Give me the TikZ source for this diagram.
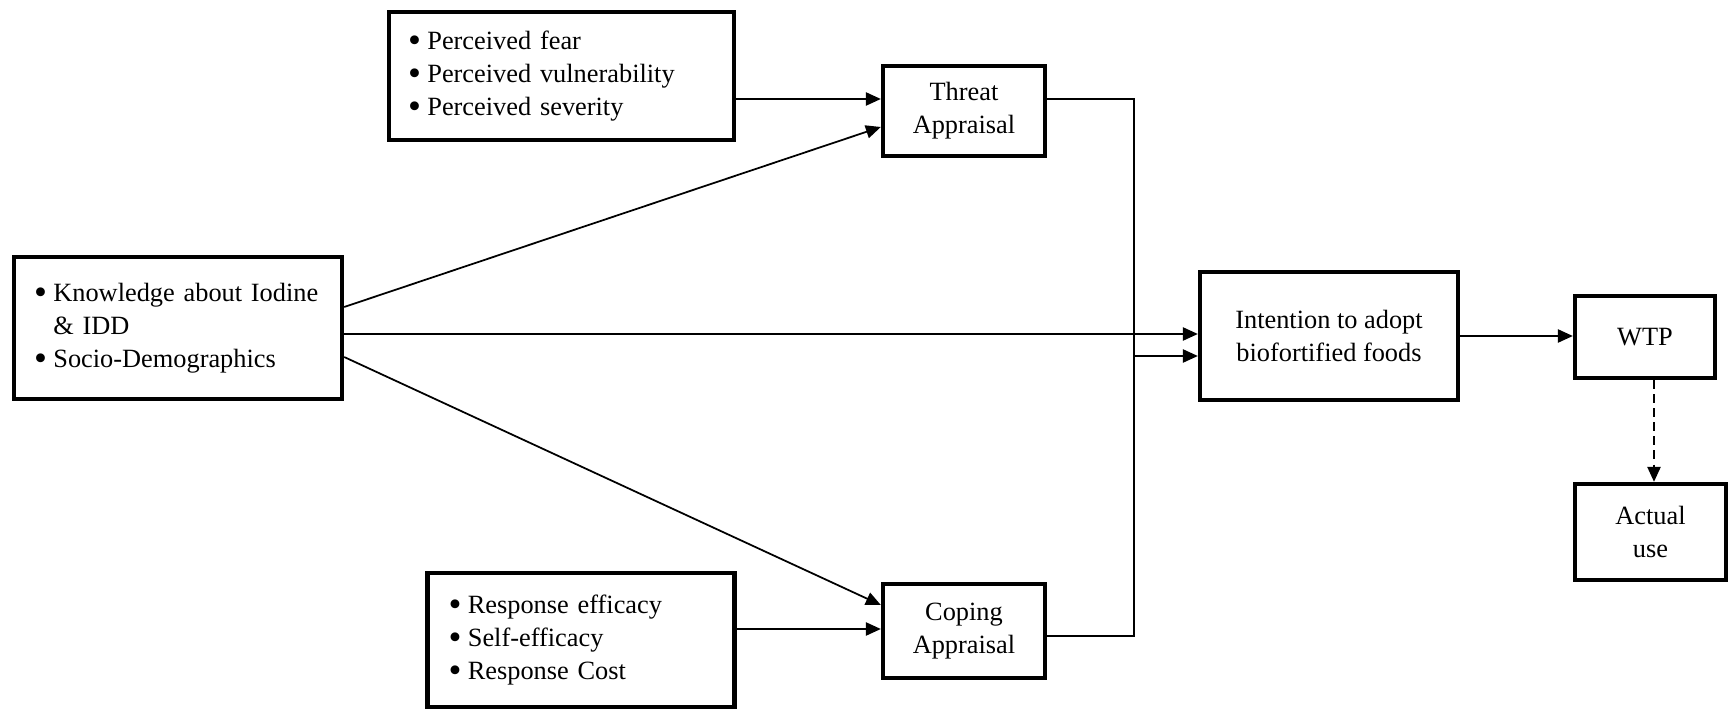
\documentclass[tikz,border=0pt]{standalone}
\usepackage{fontspec}
\setmainfont{Liberation Serif}
\usetikzlibrary{arrows.meta}
\newcommand{\bul}{\makebox[11pt][l]{\smash{\fontsize{21}{0}\selectfont\raisebox{-1.8pt}{\textbullet}}}}

\begin{document}
\begin{tikzpicture}[x=0.02cm, y=-0.02cm,
		box/.style={draw, line width=2.5pt, inner sep=0pt, align=center, font=\fontsize{15}{18.7}\selectfont},
		listbox/.style={box, align=left},
		conn/.style={line width=1pt, -{Triangle[length=8.5pt, width=7.5pt]}},
		feed/.style={line width=0.8pt}]
			\useasboundingbox (0,0) rectangle (1730,712);
			\node[listbox, minimum width=6.9cm, minimum height=2.56cm, text width=6.14cm] (fear) at (561.5,76) {\bul Perceived fear\\ \bul Perceived vulnerability\\ \bul Perceived severity};
			\node[box, minimum width=3.24cm, minimum height=1.8cm] (threat) at (964,111) {Threat\\ Appraisal};
			\node[listbox, minimum width=6.56cm, minimum height=2.84cm, text width=5.76cm] (know) at (178,328) {\bul Knowledge about Iodine\\ \hspace*{11pt}\& IDD\\ \bul Socio-Demographics};
			\node[box, minimum width=5.16cm, minimum height=2.56cm] (intent) at (1329,336) {Intention to adopt\\ biofortified foods};
			\node[box, minimum width=2.8cm, minimum height=1.64cm] (wtp) at (1645,337) {WTP};
			\node[box, minimum width=3.02cm, minimum height=1.92cm] (actual) at (1650.5,532) {Actual\\ use};
			\node[listbox, minimum width=6.14cm, minimum height=2.68cm, text width=5.3cm] (resp) at (581,640) {\bul Response efficacy\\ \bul Self-efficacy\\ \bul Response Cost};
			\node[box, minimum width=3.24cm, minimum height=1.88cm] (coping) at (964,631) {Coping\\ Appraisal};
			\coordinate (ta) at ([yshift=0.24cm]threat.west);
			\coordinate (join) at (1134,356);
			\draw[conn] (fear.east |- ta) -- (ta);
			\draw[conn] ([yshift=0.42cm]know.east) -- ([yshift=-0.32cm]threat.west);
			\draw[conn] ([yshift=-0.12cm]know.east) -- ([yshift=-0.12cm]know.east -| intent.west);
			\draw[conn] ([yshift=-0.58cm]know.east) -- ([yshift=0.52cm]coping.west);
			\draw[conn] ([yshift=0.22cm]resp.east) -- ([yshift=0.22cm]resp.east -| coping.west);
			\draw[feed] ([yshift=0.24cm]threat.east) -| (join);
			\draw[feed] ([yshift=-0.1cm]coping.east) -| (join);
			\draw[conn] (join) -- (join -| intent.west);
			\draw[conn] (intent.east) -- (intent.east -| wtp.west);
			\draw[conn, dashed, dash pattern=on 5pt off 3pt] ([xshift=0.18cm]wtp.south) -- ([xshift=0.18cm]wtp.south |- actual.north);
		\end{tikzpicture}
\end{document}
